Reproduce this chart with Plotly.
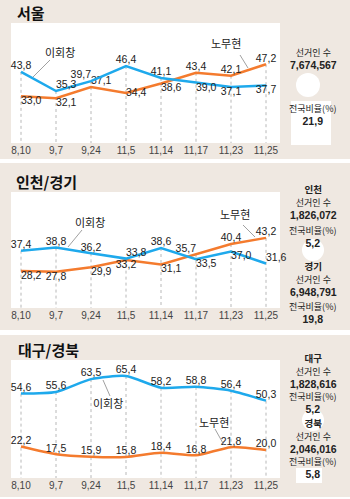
import plotly.graph_objects as go

dates = ["8,10", "9,7", "9,24", "11,5", "11,14", "11,17", "11,23", "11,25"]

seoul_lee = [43.8, 35.3, 39.7, 46.4, 41.1, 39.0, 37.1, 37.7]
seoul_roh = [33.0, 32.1, 37.1, 34.4, 38.6, 43.4, 42.1, 47.2]

ig_lee = [37.4, 38.8, 36.2, 33.8, 38.6, 33.5, 37.0, 31.6]
ig_roh = [28.2, 27.8, 29.9, 33.2, 31.1, 35.7, 40.4, 43.2]

dg_lee = [54.6, 55.6, 63.5, 65.4, 58.2, 58.8, 56.4, 50.3]
dg_roh = [22.2, 17.5, 15.9, 15.8, 18.4, 16.8, 21.8, 20.0]

titles = ["서울", "인천/경기", "대구/경북"]
info_groups = [
    [["선거인 수", "7,674,567"], ["전국비율(%)", "21,9"]],
    [["인천", "선거인 수", "1,826,072"], ["전국비율(%)", "5,2"],
     ["경기", "선거인 수", "6,948,791"], ["전국비율(%)", "19,8"]],
    [["대구", "선거인 수", "1,828,616"], ["전국비율(%)", "5,2"],
     ["경북", "선거인 수", "2,046,016"], ["전국비율(%)", "5,8"]],
]

BLUE = "#1ea9ec"
ORANGE = "#f47b2e"
BG = "#efe8e1"
W, H = 350, 499
FONT = "Liberation Sans"
KFONT = "Noto Sans CJK KR"


def fx(px):
    return px / W


def fy(py):
    return 1 - py / H


def fmt(v):
    return f"{v:.1f}".replace(".", ",")


panels = [
    dict(lee=seoul_lee, roh=seoul_roh, top=23, bot=143, yr=[12.2, 65.5],
         lpos=['top center', 'top right', 'top left', 'top center', 'top center',
               'bottom right', 'bottom center', 'bottom center'],
         rpos=['bottom right', 'bottom right', 'top right', 'middle right', 'bottom right',
               'top center', 'top center', 'top center'],
         shape='linear'),
    dict(lee=ig_lee, roh=ig_roh, top=192, bot=308, yr=[11.4, 64.0],
         lpos=['top center', 'top center', 'top center', 'top right', 'top center',
               'bottom right', 'bottom right', 'top right'],
         rpos=['bottom right', 'bottom center', 'bottom right', 'bottom center', 'bottom right',
               'top left', 'top center', 'top center'],
         shape='linear'),
    dict(lee=dg_lee, roh=dg_roh, top=360, bot=478, yr=[2.9, 75.2],
         lpos=['top center'] * 8,
         rpos=['top center'] * 8,
         shape='spline'),
]

fig = go.Figure()
layout = dict(
    width=W, height=H, margin=dict(l=0, r=0, t=0, b=0),
    paper_bgcolor=BG, plot_bgcolor="white", showlegend=False,
)
shapes = []
annotations = []

for i, p in enumerate(panels):
    n = "" if i == 0 else str(i + 1)
    xa, ya = "x" + n, "y" + n
    layout["xaxis" + n] = dict(
        domain=[fx(11), fx(280)], range=[-0.286, 7.4], type="linear",
        tickvals=list(range(len(dates))), ticktext=dates, showgrid=False,
        zeroline=False, showline=False, ticks="", anchor=ya,
        tickfont=dict(family=FONT, size=10, color="#444"), fixedrange=True)
    layout["yaxis" + n] = dict(
        domain=[fy(p["bot"]), fy(p["top"])], range=p["yr"], visible=False,
        anchor=xa, fixedrange=True)
    idx = list(range(len(dates)))
    # dotted guides
    gx, gy = [], []
    for k in idx:
        gx += [k, k, None]
        gy += [max(p["lee"][k], p["roh"][k]), p["yr"][0], None]
    fig.add_trace(go.Scatter(x=gx, y=gy, mode="lines", xaxis=xa, yaxis=ya,
                             line=dict(color="#b8b8b8", width=1, dash="dot"),
                             hoverinfo="skip"))
    for vals, col, pos in [(p["roh"], ORANGE, p["rpos"]), (p["lee"], BLUE, p["lpos"])]:
        fig.add_trace(go.Scatter(
            x=idx, y=vals, mode="lines+text", xaxis=xa, yaxis=ya, cliponaxis=False,
            line=dict(color=col, width=2.5, shape=p["shape"], smoothing=0.6),
            text=[fmt(v) for v in vals], textposition=pos,
            textfont=dict(family=FONT, size=10.5, color="#222")))

# separators
for y0, y1 in [(159, 163), (330, 335), (497, 499)]:
    shapes.append(dict(type="rect", xref="paper", yref="paper", x0=0, x1=1,
                       y0=fy(y1), y1=fy(y0), fillcolor="white", line=dict(width=0),
                       layer="below"))

# white blobs on right
for cx, cy, r in [(308, 85, 12), (313, 250, 11), (313, 420, 11)]:
    shapes.append(dict(type="circle", xref="paper", yref="paper",
                       x0=fx(cx - r), x1=fx(cx + r), y0=fy(cy + r), y1=fy(cy - r),
                       fillcolor="white", line=dict(width=0), layer="below"))
for x0, y0, x1, y1 in [(291, 101, 331, 145), (296, 468, 322, 483)]:
    shapes.append(dict(type="rect", xref="paper", yref="paper",
                       x0=fx(x0), x1=fx(x1), y0=fy(y1), y1=fy(y0),
                       fillcolor="white", line=dict(width=0), layer="below"))

# titles
for t, (tx, ty) in zip(titles, [(15, 12), (14, 182), (16, 349)]):
    annotations.append(dict(text=f"<b>{t}</b>", x=fx(tx), y=fy(ty), xref="paper", yref="paper",
                            xanchor="left", yanchor="middle", showarrow=False,
                            font=dict(family=KFONT, size=15, color="#111")))

# right side info (grouped lines)
group_y = [
    [58.5, 114.5],
    [202, 236.5, 278, 312.5],
    [370, 402.5, 435, 467.5],
]
bold_set = {"인천", "경기", "대구", "경북"}


def fmt_line(t):
    if t[0].isdigit():
        return f"<span style='font-family:{FONT};font-size:10.5px'><b>{t}</b></span>"
    if t in bold_set:
        return f"<span style='font-size:9.5px'><b>{t}</b></span>"
    return f"<span style='font-size:9px'>{t}</span>"


for groups, ys in zip(info_groups, group_y):
    for g, yy in zip(groups, ys):
        annotations.append(dict(
            text="<br>".join(fmt_line(t) for t in g), x=fx(313), y=fy(yy),
            xref="paper", yref="paper", xanchor="center", yanchor="middle",
            showarrow=False, align="center",
            font=dict(family=KFONT, size=10, color="#222")))

# callouts
callouts = [
    ("이회창", (60, 52), (50, 60), (33, 77)),
    ("노무현", (226, 43), (240, 55), (248, 68)),
    ("이회창", (90, 222), (82, 230), (68, 247)),
    ("노무현", (235, 214), (243, 225), (255, 237)),
    ("이회창", (108, 403), (103, 380), (110, 396)),
    ("노무현", (214, 422), (215, 429), (224, 445)),
]
for t, (tx, ty), (x0, y0), (x1, y1) in callouts:
    annotations.append(dict(text=t, x=fx(tx), y=fy(ty), xref="paper", yref="paper",
                            xanchor="center", yanchor="middle", showarrow=False,
                            font=dict(family=KFONT, size=11, color="#222")))
    shapes.append(dict(type="line", xref="paper", yref="paper",
                       x0=fx(x0), y0=fy(y0), x1=fx(x1), y1=fy(y1),
                       line=dict(color="#888", width=0.8)))

layout["shapes"] = shapes
layout["annotations"] = annotations
fig.update_layout(**layout)
fig.write_html("out.html")
